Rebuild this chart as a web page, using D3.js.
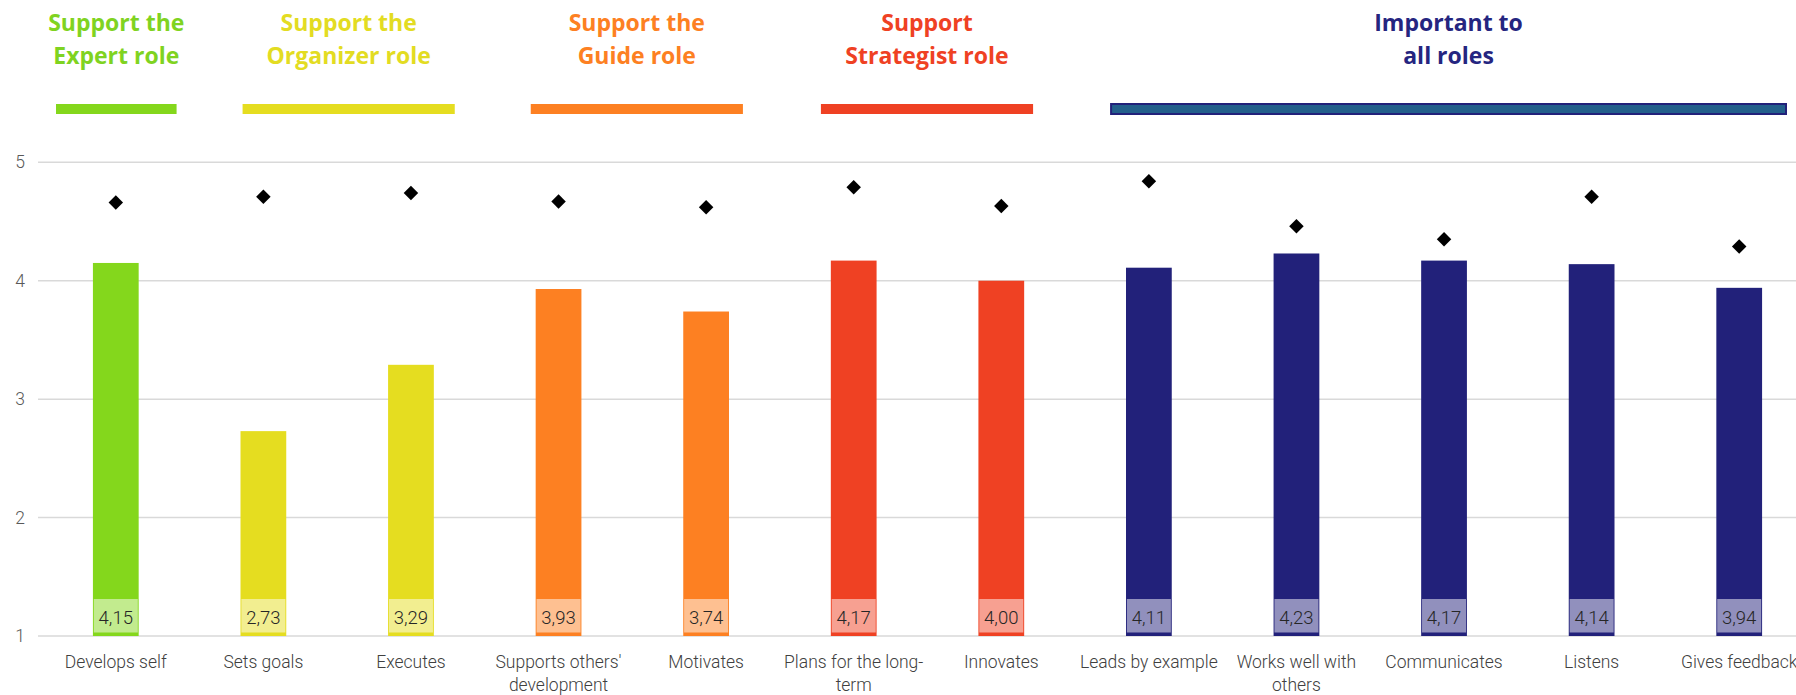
<!DOCTYPE html>
<html>
<head>
<meta charset="utf-8">
<script src="https://cdn.jsdelivr.net/npm/d3@7"></script>
<style>
  html, body { margin: 0; padding: 0; background: #fff; }
  svg { display: block; }
</style>
</head>
<body>
<svg id="chart" width="1796" height="695"></svg>
<script>
// ---------- data ----------
const categories = ["Develops self", "Sets goals", "Executes", "Supports others' development", "Motivates",
  "Plans for the long-term", "Innovates", "Leads by example", "Works well with others", "Communicates",
  "Listens", "Gives feedback"];
const barValues = [4.15, 2.73, 3.29, 3.93, 3.74, 4.17, 4.00, 4.11, 4.23, 4.17, 4.14, 3.94];
const diamondValues = [4.66, 4.71, 4.74, 4.67, 4.62, 4.79, 4.63, 4.84, 4.46, 4.35, 4.71, 4.29];
const barGroup = [0, 1, 1, 2, 2, 3, 3, 4, 4, 4, 4, 4];
const groupTitles = [["Support the", "Expert role"], ["Support the", "Organizer role"], ["Support the", "Guide role"],
  ["Support", "Strategist role"], ["Important to", "all roles"]];
const groupFirst = [0, 1, 3, 5, 7];
const groupLast = [0, 2, 4, 6, 11];
const yTicks = [1, 2, 3, 4, 5];

// ---------- styles ----------
const groupColors = ["#84d71c", "#e5dd20", "#fd8022", "#ef4123", "#22217a"];
const titleColors = ["#7fd321", "#e3dc22", "#fd8022", "#ef4123", "#252580"];
const headerInsets = [[14, 13], [53, 30], [46, 37], [41, 42], [36, 27]];

const svg = d3.select("#chart");
const x = d3.scaleBand().domain(categories).range([42, 1813]).paddingInner(0.69).paddingOuter(0.345);
const y = d3.scaleLinear().domain([1, 5]).range([636, 162.3]);
const step = x.step();
const cx = c => x(c) + x.bandwidth() / 2;

// gridlines
svg.append("g").selectAll("line").data(yTicks).join("line")
  .attr("x1", 38).attr("x2", 1796)
  .attr("y1", d => y(d)).attr("y2", d => y(d))
  .attr("stroke", "#d9d9d9").attr("stroke-width", 1.5);

// y axis
const yAxis = svg.append("g").attr("transform", "translate(25,0)")
  .call(d3.axisLeft(y).tickValues(yTicks).tickSize(0).tickPadding(0).tickFormat(d3.format("d")));
yAxis.select(".domain").remove();
yAxis.selectAll("text").attr("font-family", "Roboto").attr("font-weight", 300)
  .attr("font-size", 17.5).attr("fill", "#595959");

// bars
svg.append("g").selectAll("rect").data(categories).join("rect")
  .attr("x", c => x(c)).attr("width", x.bandwidth())
  .attr("y", (c, i) => y(barValues[i]))
  .attr("height", (c, i) => y(1) - y(barValues[i]))
  .attr("fill", (c, i) => groupColors[barGroup[i]]);

// value label boxes
const lbl = svg.append("g").selectAll("g").data(categories).join("g");
lbl.append("rect")
  .attr("x", c => cx(c) - 22).attr("width", 44)
  .attr("y", y(1) - 37).attr("height", 33.5)
  .attr("fill", "#fff").attr("fill-opacity", 0.5);
lbl.append("text")
  .attr("x", c => cx(c)).attr("y", y(1) - 12)
  .attr("text-anchor", "middle")
  .attr("font-family", "Roboto").attr("font-weight", 300).attr("font-size", 18.5)
  .attr("fill", "#262626")
  .text((c, i) => d3.format(".2f")(barValues[i]).replace(".", ","));

// diamonds
svg.append("g").selectAll("path").data(categories).join("path")
  .attr("d", d3.symbol(d3.symbolSquare).size(105))
  .attr("transform", (c, i) => `translate(${cx(c)},${y(diamondValues[i])}) rotate(45)`)
  .attr("fill", "#000");

// category labels (wrapped)
const ctx = document.createElement("canvas").getContext("2d");
ctx.font = "300 17.5px Roboto";
function wrap(str, maxW) {
  const tokens = str.match(/[^\s-]+-?|\s+/g).filter(t => t.trim().length);
  const lines = []; let cur = "";
  tokens.forEach(t => {
    const joiner = cur === "" ? "" : (cur.endsWith("-") ? "" : " ");
    const test = cur + joiner + t;
    if (cur !== "" && ctx.measureText(test).width > maxW) { lines.push(cur); cur = t; }
    else cur = test;
  });
  if (cur) lines.push(cur);
  return lines;
}
const xl = svg.append("g").selectAll("text").data(categories).join("text")
  .attr("x", c => cx(c)).attr("y", y(1) + 32)
  .attr("text-anchor", "middle")
  .attr("font-family", "Roboto").attr("font-weight", 300).attr("font-size", 17.5)
  .attr("fill", "#404040");
xl.each(function(c) {
  const lines = wrap(c, step + 2);
  d3.select(this).selectAll("tspan").data(lines).join("tspan")
    .attr("x", cx(c)).attr("dy", (d, i) => i === 0 ? 0 : 23).text(d => d);
});

// group headers
const half = x.step() * x.paddingInner() / 2;
const hx0 = (d, i) => x(categories[groupFirst[i]]) - half + headerInsets[i][0];
const hx1 = (d, i) => x(categories[groupLast[i]]) + x.bandwidth() + half - headerInsets[i][1];
const hdr = svg.append("g").selectAll("g").data(groupTitles).join("g");
hdr.append("rect")
  .attr("x", hx0).attr("width", (d, i) => hx1(d, i) - hx0(d, i))
  .attr("y", 104).attr("height", 10)
  .attr("fill", (d, i) => i === 4 ? "#235f8b" : groupColors[i])
  .attr("stroke", (d, i) => i === 4 ? "#22217a" : "none")
  .attr("stroke-width", 2);
hdr.append("text")
  .attr("x", (d, i) => (hx0(d, i) + hx1(d, i)) / 2)
  .attr("y", 31)
  .attr("text-anchor", "middle")
  .attr("font-family", "Open Sans").attr("font-weight", 700).attr("font-size", 23)
  .attr("fill", (d, i) => titleColors[i])
  .selectAll("tspan").data(d => d).join("tspan")
  .attr("x", function() { return d3.select(this.parentNode).attr("x"); })
  .attr("dy", (d, i) => i === 0 ? 0 : 33)
  .text(d => d);
</script>
</body>
</html>
